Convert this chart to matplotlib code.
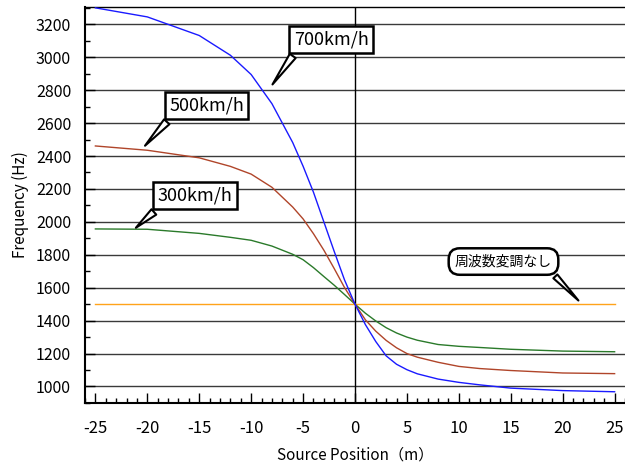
import matplotlib
matplotlib.use("Agg")
import matplotlib.pyplot as plt
from matplotlib.ticker import MultipleLocator

plt.rcParams['font.family'] = ['Noto Sans CJK JP', 'DejaVu Sans']
plt.rcParams['axes.unicode_minus'] = False

# source position (m)
pos = [-25, -20, -15, -12, -10, -8, -6, -5, -4, -3, -2, -1, 0,
       1, 2, 3, 4, 5, 6, 8, 10, 12, 15, 20, 25]

f_700 = [3300, 3245, 3132, 3012, 2895, 2718, 2482, 2338, 2180, 2000, 1820, 1646, 1500,
         1376, 1273, 1186, 1135, 1102, 1077, 1045, 1025, 1010, 990, 975, 968]
f_500 = [2461, 2435, 2389, 2337, 2290, 2210, 2090, 2018, 1928, 1828, 1716, 1600, 1500,
         1405, 1336, 1280, 1235, 1200, 1178, 1147, 1122, 1109, 1097, 1082, 1078]
f_300 = [1957, 1955, 1930, 1906, 1888, 1853, 1803, 1770, 1722, 1668, 1615, 1558, 1500,
         1445, 1398, 1357, 1325, 1300, 1281, 1255, 1244, 1237, 1226, 1215, 1211]
f_none = [1500] * len(pos)

yticks = list(range(1000, 3201, 200))

fig = plt.figure(figsize=(6.25, 4.68), dpi=100)
ax = fig.add_axes([0.136, 0.139, 0.864, 0.846])

for y in yticks:
    ax.axhline(y, color='#3a3a3a', lw=1.0, zorder=1)
ax.axvline(0, color='black', lw=1.0, zorder=1)

ax.plot(pos, f_none, color='#ffa31a', lw=1.0, zorder=2)
ax.plot(pos, f_300, color='#2a7a2a', lw=1.0, zorder=3)
ax.plot(pos, f_500, color='#b0452a', lw=1.0, zorder=4)
ax.plot(pos, f_700, color='#1a1aff', lw=1.0, zorder=5)

ax.set_xlim(-26, 26)
ax.set_ylim(900, 3305)
ax.set_xticks(range(-25, 26, 5))
ax.xaxis.set_minor_locator(MultipleLocator(1))
ax.set_yticks(yticks)
ax.yaxis.set_minor_locator(MultipleLocator(100))
ax.tick_params(axis='x', which='major', direction='in', length=7, width=1, pad=12, labelsize=12)
ax.tick_params(axis='x', which='minor', direction='in', length=3.6, width=1)
ax.tick_params(axis='y', which='major', direction='in', length=7, width=1, pad=10, labelsize=11.5)
ax.tick_params(axis='y', which='minor', direction='in', length=3.6, width=1)

ax.spines['right'].set_visible(False)
ax.spines['top'].set_linewidth(1.0)
ax.spines['left'].set_linewidth(1.5)
ax.spines['bottom'].set_linewidth(1.5)

ax.set_xlabel('Source Position（m）', fontsize=11, labelpad=7)
ax.set_ylabel('Frequency (Hz)', fontsize=11, labelpad=5)

box = dict(boxstyle='square,pad=0.25', fc='white', ec='black', lw=1.8)
def callout(txt, tip, at, rel, bb, fs):
    ax.annotate(txt, xy=tip, xytext=at, ha='center', va='center', fontsize=fs,
                bbox=bb, zorder=10,
                arrowprops=dict(arrowstyle='wedge,tail_width=0.4', fc='white',
                                ec='black', lw=1.5, relpos=rel))

callout('700km/h', (-8.1, 2821), (-2.3, 3109), (0.06, 0.0), box, 13)
callout('500km/h', (-20.4, 2450), (-14.3, 2708), (0.06, 0.0), box, 13)
callout('300km/h', (-21.3, 1953), (-15.4, 2159), (0.06, 0.0), box, 13)
callout('周波数変調なし', (21.7, 1510), (14.3, 1759), (0.95, 0.05),
        dict(boxstyle='round,pad=0.45,rounding_size=0.8', fc='white', ec='black', lw=1.8), 10)

fig.savefig('out.png', dpi=100)
